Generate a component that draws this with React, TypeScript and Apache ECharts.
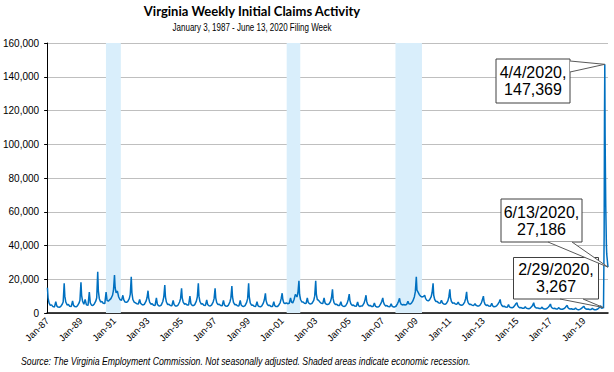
import React, { useEffect, useRef } from "react";
import * as echarts from "echarts";

// ---- Data ----
const startYear = 1987;
// sample weeks within each year (MM-DD)
const sampleDays = ["01-07", "01-21", "02-11", "03-11", "04-08", "05-06", "06-10", "07-08", "07-29", "08-26", "09-23", "10-21", "11-25", "12-16"];

const claims1987to1995: number[][] = [
  [15000, 9000, 6000, 4500, 4800, 3800, 3600, 6700, 4200, 3500, 3400, 3800, 5200, 6500],
  [17600, 10000, 6500, 4800, 5000, 4000, 3900, 7200, 4500, 3800, 3700, 4200, 5800, 7500],
  [18200, 10500, 7000, 5200, 8000, 4800, 4500, 12400, 6000, 4600, 4500, 5200, 7000, 9000],
  [24500, 13000, 8500, 6500, 6800, 5800, 5600, 12400, 7500, 7000, 7800, 8500, 10500, 13500],
  [22500, 15000, 12000, 13000, 9500, 8000, 7500, 10500, 7800, 6500, 6300, 6800, 8500, 11000],
  [21500, 12000, 8000, 6500, 6000, 5500, 5300, 8000, 5800, 5000, 4800, 5200, 7000, 9000],
  [13200, 9000, 6500, 5200, 5500, 4600, 4500, 9000, 5200, 4300, 4200, 4700, 6800, 9500],
  [16600, 9500, 6500, 5000, 5200, 4400, 4300, 7500, 5000, 4200, 4100, 4600, 6500, 8500],
  [14600, 9000, 6500, 5200, 5500, 4800, 4800, 10000, 5500, 4500, 4400, 5000, 7000, 9500],
];
const claims1996to2004: number[][] = [
  [17600, 10000, 6800, 5300, 5500, 4600, 4500, 7700, 5000, 4300, 4200, 4700, 6500, 8500],
  [14600, 9000, 6200, 5000, 5200, 4400, 4300, 7500, 4800, 4100, 4000, 4500, 6500, 8800],
  [16000, 9500, 6300, 4900, 5000, 4300, 4200, 7500, 4700, 4000, 3900, 4400, 6300, 8500],
  [17600, 9500, 6000, 4600, 4800, 4000, 3900, 6700, 4400, 3800, 3700, 4200, 6000, 8000],
  [11700, 7500, 5500, 4400, 4600, 3900, 3800, 6700, 4300, 3800, 3800, 4500, 6200, 8500],
  [11700, 8000, 6000, 5500, 6000, 5500, 5800, 9000, 6500, 6000, 8000, 11000, 9500, 12000],
  [19100, 11000, 8000, 6500, 6500, 5800, 5600, 9000, 6200, 5500, 5400, 5800, 7500, 10000],
  [19100, 11000, 8000, 7500, 6500, 5800, 5600, 9000, 6000, 5200, 5000, 5300, 6800, 9000],
  [14000, 8500, 6000, 5000, 5200, 4500, 4400, 6700, 4600, 4000, 3900, 4300, 6000, 8000],
];
const claims2005to2013: number[][] = [
  [11200, 7500, 5500, 4500, 4700, 4100, 4000, 6500, 4300, 3800, 4200, 4200, 5800, 7800],
  [10500, 7000, 5200, 4300, 4500, 3900, 3800, 6000, 4100, 3600, 3500, 3900, 5500, 7000],
  [8900, 6500, 5000, 4200, 4400, 3800, 3700, 5500, 4000, 3600, 3600, 4000, 5600, 7000],
  [8700, 6500, 5200, 4800, 5000, 4800, 5000, 7000, 5500, 5300, 5800, 7000, 9500, 12500],
  [21500, 13500, 12500, 11000, 10000, 9500, 9800, 10500, 8500, 7500, 7200, 7800, 9500, 12000],
  [17600, 10500, 8000, 6800, 6800, 6000, 5800, 7500, 6000, 5300, 5200, 5600, 7200, 9500],
  [14000, 9000, 6800, 5800, 6000, 5300, 5200, 6500, 5200, 4700, 4600, 5000, 6500, 8500],
  [12600, 8000, 6000, 5000, 5200, 4600, 4500, 5500, 4600, 4200, 4100, 4500, 6000, 7800],
  [10000, 7000, 5200, 4500, 4700, 4100, 4000, 5800, 4200, 3700, 3800, 4200, 5500, 6500],
];
const claims2014to2019: number[][] = [
  [8000, 5800, 4500, 3800, 4000, 3500, 3400, 5000, 3600, 3200, 3100, 3400, 4600, 5500],
  [6100, 4500, 3600, 3100, 3200, 2800, 2800, 3800, 2900, 2600, 2500, 2800, 3800, 4600],
  [6100, 4300, 3400, 2900, 3000, 2600, 2600, 3500, 2700, 2400, 2400, 2700, 3600, 4300],
  [5300, 3800, 3000, 2600, 2800, 2400, 2400, 3200, 2500, 2200, 2200, 2500, 3200, 4000],
  [4500, 3300, 2700, 2400, 2500, 2200, 2200, 3000, 2300, 2000, 2000, 2300, 3000, 3600],
  [4000, 3000, 2500, 2200, 2400, 2100, 2100, 2800, 2200, 1900, 1900, 2200, 2900, 3500],
];
const claims2020Dates = ["2020-01-04", "2020-01-18", "2020-02-08", "2020-02-29", "2020-03-07", "2020-03-14", "2020-03-21", "2020-03-28", "2020-04-04", "2020-04-11", "2020-04-18", "2020-04-25", "2020-05-02", "2020-05-09", "2020-05-16", "2020-05-23", "2020-05-30", "2020-06-06", "2020-06-13"];
const claims2020Values = [4300, 3000, 2800, 3267, 2800, 2706, 46277, 114104, 147369, 104697, 82930, 63406, 52000, 40000, 35000, 33000, 31000, 29000, 27186];

const recessions: [string, string][] = [
  ["1990-07-05", "1991-05-25"],
  ["2001-04-15", "2002-02-05"],
  ["2007-10-10", "2009-05-10"],
];

const xTickLabels = ["Jan-87", "Jan-89", "Jan-91", "Jan-93", "Jan-95", "Jan-97", "Jan-99", "Jan-01", "Jan-03", "Jan-05", "Jan-07", "Jan-09", "Jan-11", "Jan-13", "Jan-15", "Jan-17", "Jan-19"];
const yTicks = { min: 0, max: 160000, interval: 20000 };
const xEnd = "2020-06-13";

const annotations = [
  { date: "2020-04-04", value: 147369, label: "4/4/2020,\n147,369" },
  { date: "2020-06-13", value: 27186, label: "6/13/2020,\n27,186" },
  { date: "2020-02-29", value: 3267, label: "2/29/2020,\n3,267" },
];

const title = "Virginia Weekly Initial Claims Activity";
const subtitle = "January 3, 1987 - June 13, 2020 Filing Week";
const source = "Source: The Virginia Employment Commission. Not seasonally adjusted. Shaded areas indicate economic recession.";

// ---- helpers ----
function toYears(dateStr: string): number {
  const [y, m, d] = dateStr.split("-").map(Number);
  const t = Date.UTC(y, m - 1, d);
  const s = Date.UTC(y, 0, 1);
  const e = Date.UTC(y + 1, 0, 1);
  return y - startYear + (t - s) / (e - s);
}

function buildSeries(): [number, number][] {
  const out: [number, number][] = [];
  const blocks = [claims1987to1995, claims1996to2004, claims2005to2013, claims2014to2019];
  let year = startYear;
  blocks.forEach((block) => {
    block.forEach((row) => {
      row.forEach((v, i) => {
        out.push([toYears(`${year}-${sampleDays[i]}`), v]);
      });
      year++;
    });
  });
  claims2020Dates.forEach((d, i) => out.push([toYears(d), claims2020Values[i]]));
  return out;
}

const ARIAL = "'Liberation Sans', Arial, sans-serif";

export default function App() {
  const ref = useRef<HTMLDivElement>(null);
  useEffect(() => {
    document.body.style.margin = "0";
    if (!ref.current) return;
    const chart = echarts.init(ref.current, null, { renderer: "svg" });
    const data = buildSeries();
    chart.setOption({
      animation: false,
      grid: { left: 46, right: 6, top: 43, bottom: 59 },
      xAxis: {
        type: "value",
        min: 0,
        max: toYears(xEnd),
        interval: 2,
        axisLine: { show: true, lineStyle: { color: "#000", width: 1.5 } },
        axisTick: { show: false },
        splitLine: { show: false },
        axisLabel: {
          rotate: 45,
          margin: 6,
          fontSize: 9.5,
          color: "#000",
          fontFamily: ARIAL,
          showMaxLabel: false,
          formatter: (v: number) => xTickLabels[Math.round(v / 2)] ?? "",
        },
      },
      yAxis: {
        type: "value",
        min: yTicks.min,
        max: yTicks.max,
        interval: yTicks.interval,
        axisLine: { show: true, lineStyle: { color: "#000", width: 1 } },
        axisTick: { show: true, length: 3, lineStyle: { color: "#000" } },
        splitLine: { show: true, lineStyle: { color: "#bfbfbf", width: 1 } },
        axisLabel: {
          margin: 8,
          fontSize: 10,
          color: "#000",
          fontFamily: ARIAL,
          formatter: (v: number) => v.toLocaleString("en-US"),
        },
      },
      series: [
        {
          type: "line",
          data,
          showSymbol: false,
          symbol: "none",
          lineStyle: { color: "#0070c0", width: 1.5 },
          z: 3,
          markArea: {
            silent: true,
            itemStyle: { color: "#d9eefb" },
            data: recessions.map(([a, b]) => [{ xAxis: toYears(a) }, { xAxis: toYears(b) }]),
          },
        },
      ],
    });

    const pt = (a: { date: string; value: number }) =>
      chart.convertToPixel({ gridIndex: 0 }, [toYears(a.date), a.value]) as number[];
    const [pA, pB, pC] = annotations.map(pt);
    const boxes = [
      { x: 496, y: 59, w: 74, h: 44, base: [[570, 61], [570, 72]], tip: pA },
      { x: 501, y: 199, w: 81, h: 43, base: [[548, 242], [572, 242]], tip: pB },
      { x: 513.5, y: 257.5, w: 85, h: 41.5, base: [[560, 299], [583, 299]], tip: pC },
    ];
    const graphics: any[] = [
      {
        type: "text",
        x: 252, y: 11,
        style: { text: title, textAlign: "center", textVerticalAlign: "middle", font: `bold 13px Lato, sans-serif`, fill: "#000" },
      },
      {
        type: "text",
        x: 252, y: 28,
        scaleX: 0.8,
        style: { text: subtitle, textAlign: "center", textVerticalAlign: "middle", font: `10px ${ARIAL}`, fill: "#000" },
      },
      {
        type: "text",
        x: 21, y: 362,
        scaleX: 0.87,
        style: { text: source, textAlign: "left", textVerticalAlign: "middle", font: `italic 10px ${ARIAL}`, fill: "#000" },
      },
    ];
    boxes.forEach((b, i) => {
      graphics.push({
        type: "rect", z: 10,
        shape: { x: b.x, y: b.y, width: b.w, height: b.h },
        style: { fill: "#fff", stroke: "#404040", lineWidth: 1 },
      });
      graphics.push({
        type: "polygon", z: 11,
        shape: { points: [b.base[0], b.tip, b.base[1]] },
        style: { fill: "#fff", stroke: null },
      });
      graphics.push({
        type: "polyline", z: 12,
        shape: { points: [b.base[0], b.tip, b.base[1]] },
        style: { stroke: "#595959", lineWidth: 1, fill: null },
      });
      graphics.push({
        type: "text", z: 13,
        x: b.x + b.w / 2, y: b.y + b.h / 2,
        style: {
          text: annotations[i].label, textAlign: "center", textVerticalAlign: "middle",
          font: `16px ${ARIAL}`, lineHeight: 17, fill: "#000",
        },
      });
    });
    chart.setOption({ graphic: graphics });
    return () => chart.dispose();
  }, []);
  return <div ref={ref} style={{ width: 614, height: 372 }} />;
}
